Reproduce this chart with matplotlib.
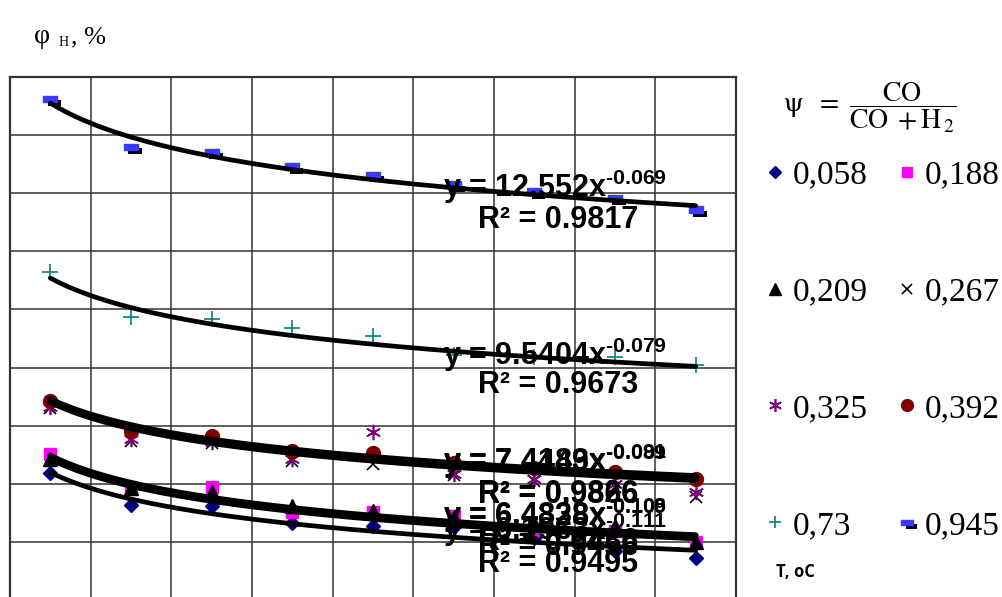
import numpy as np
import matplotlib
matplotlib.use("Agg")
import matplotlib.pyplot as plt
import matplotlib.patheffects as pe

plt.rcParams['mathtext.fontset'] = 'custom'
plt.rcParams['mathtext.rm'] = 'Liberation Sans'
plt.rcParams['mathtext.bf'] = 'Liberation Sans:bold'

# measurement number (points are in the middle of each grid column)
x_vals = [1, 2, 3, 4, 5, 6, 7, 8, 9]

# psi = CO / (CO + H2)
psi_labels = ['0,058', '0,188', '0,209', '0,267', '0,325', '0,392', '0,73', '0,945']

phi_058 = [6.19, 5.64, 5.62, 5.33, 5.28, 5.26, 5.06, 4.85, 4.72]
phi_188 = [6.52, 5.92, 5.95, 5.52, 5.52, 5.45, 5.20, 5.18, 5.00]
phi_209 = [6.43, 5.92, 5.86, 5.61, 5.54, 5.42, 5.33, 5.28, 5.00]
phi_267 = [7.30, 6.74, 6.70, 6.40, 6.34, 6.15, 6.05, 5.95, 5.78]
phi_325 = [7.32, 6.77, 6.72, 6.43, 6.89, 6.17, 6.09, 6.00, 5.86]
phi_392 = [7.43, 6.91, 6.82, 6.57, 6.53, 6.35, 6.27, 6.21, 6.09]
phi_73 = [9.64, 8.87, 8.83, 8.68, 8.54, 8.21, 8.18, 8.18, 8.04]
phi_945 = [12.62, 11.80, 11.71, 11.46, 11.32, 11.15, 11.03, 10.92, 10.72]

# power trendlines y = a * x^b shown on the chart
trend_psi = ['0,058', '0,188', '0,209', '0,325', '0,392', '0,73', '0,945']
trend_a = [6.1963, 6.4328, 6.4838, 7.4183, 7.4449, 9.5404, 12.552]
trend_b = [-0.111, -0.109, -0.108, -0.091, -0.089, -0.079, -0.069]
trend_r2 = [0.9495, 0.9456, 0.9486, 0.9826, 0.9866, 0.9673, 0.9817]

series = [phi_058, phi_188, phi_209, phi_267, phi_325, phi_392, phi_73, phi_945]

dash = [(-1, -0.45), (1, -0.45), (1, 0.45), (-1, 0.45), (-1, -0.45)]
styles = [
    dict(marker='D', color='#000080', ms=7),
    dict(marker='s', color='#ff00ff', ms=9),
    dict(marker='^', color='black', ms=10),
    dict(marker='x', color='black', ms=8, mew=1.2),
    dict(marker=(6, 2, 0), color='#800080', ms=11, mew=1.2),
    dict(marker='o', color='#800000', ms=10),
    dict(marker='+', color='#008080', ms=11, mew=1.2),
    dict(marker=dash, color='#3a3aff', ms=10,
         path_effects=[pe.SimplePatchShadow(offset=(3, -3), shadow_rgbFace='k', alpha=1), pe.Normal()]),
]

fig = plt.figure(figsize=(10.03, 5.97), dpi=100)
ax = fig.add_axes([10 / 1003, -3 / 597, 726 / 1003, 523 / 597])

handles = {}
for lab, ys, st in zip(psi_labels, series, styles):
    h, = ax.plot(x_vals, ys, linestyle='none', label=lab, zorder=3, **st)
    handles[lab] = h

# trendlines and their labels
eq_pos = {'0,058': (5.20, 4.62), '0,188': (5.44, 4.92), '0,209': (5.47, 5.00),
          '0,325': (6.39, 5.83), '0,392': (6.37, 5.80), '0,73': (8.22, 7.70),
          '0,945': (11.11, 10.54)}
line_w = {'0,325': 5.0, '0,392': 5.0, '0,188': 4.2, '0,209': 4.2}
xx = np.linspace(1, 9, 200)
for lab, a, b, r2 in zip(trend_psi, trend_a, trend_b, trend_r2):
    ax.plot(xx, a * xx ** b, color='black', lw=line_w.get(lab, 3.4), zorder=4,
            solid_capstyle='round')
    ye, yr = eq_pos[lab]
    sup = ('%.3f' % b).replace('-', '\u2010')
    ax.text(7.26, ye, 'y = %gx$^{\\mathbf{%s}}$' % (a, sup), ha='center', va='center',
            fontsize=22, fontweight='bold', family='Liberation Sans', zorder=5)
    ax.text(7.3, yr, 'R² = %.4f' % r2, ha='center', va='center',
            fontsize=22, fontweight='bold', family='Liberation Sans', zorder=5)

ax.set_xlim(0.5, 9.5)
ax.set_ylim(4, 13)
ax.set_xticks(np.arange(0.5, 9.6, 1))
ax.set_yticks(np.arange(4, 13.1, 1))
ax.tick_params(length=0, labelleft=False, labelbottom=False)
ax.grid(True, color='#333333', lw=1.1)
for s in ax.spines.values():
    s.set_color('#333333')
    s.set_linewidth(1.6)

# y axis title
fig.text(34 / 1003, 1 - 43 / 597, 'φ', fontsize=20, family='Liberation Serif', va='baseline')
fig.text(59 / 1003, 1 - 46 / 597, 'Н', fontsize=10, family='Liberation Serif', va='baseline')
fig.text(71 / 1003, 1 - 43 / 597, ', %', fontsize=19, family='Liberation Serif', va='baseline')

# legend title
t = fig.text(783 / 1003, 1 - 108 / 597,
             r'$\mathrm{ψ}\ \ =\ \dfrac{\mathrm{CO}}{\mathrm{CO}\;+\mathrm{H}_{\,2}}$',
             fontsize=20, va='center', ha='left')
t.set_math_fontfamily('stix')

order = ['0,058', '0,209', '0,325', '0,73', '0,188', '0,267', '0,392', '0,945']
leg = fig.legend([handles[k] for k in order], order, ncol=2, loc='upper left',
                 bbox_to_anchor=(765 / 1003, 1 - 160 / 597), frameon=False,
                 prop={'family': 'Liberation Serif', 'size': 24},
                 handlelength=0.6, handletextpad=0.22, columnspacing=0.9,
                 labelspacing=2.59, borderpad=0, borderaxespad=0, markerscale=0.85)

fig.text(776 / 1003, 1 - 572 / 597, 'T, oC', fontsize=12, fontweight='bold',
         family='Open Sans', va='center')

fig.savefig('out.png', dpi=100)
